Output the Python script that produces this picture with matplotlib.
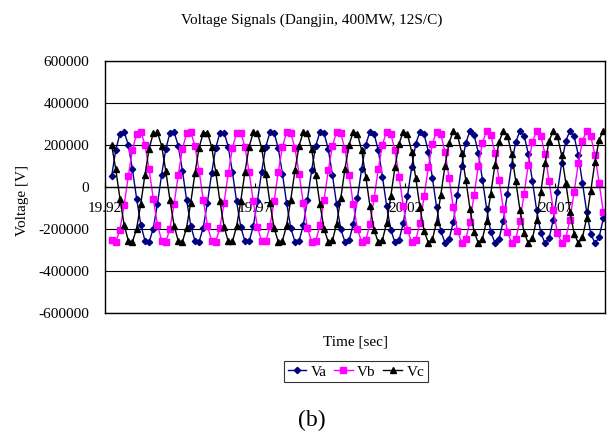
import numpy as np
import matplotlib
matplotlib.use('Agg')
import matplotlib.pyplot as plt

plt.rcParams['font.family'] = ['Liberation Serif', 'DejaVu Serif']

# ----------- datos (kV) -----------
T0 = 19.9222        # primer muestra [sec]
DT = 1.0 / 720.0    # paso de muestreo [sec]

Va = [51, 176, 254, 263, 201, 84, -55, -179, -255, -262, -198, -81,
      58, 182, 256, 261, 196, 77, -62, -184, -257, -260, -193, -74,
      65, 187, 258, 259, 191, 70, -69, -190, -259, -259, -188, -67,
      72, 192, 260, 258, 185, 63, -76, -195, -261, -256, -183, -60,
      79, 197, 262, 255, 180, 56, -83, -200, -262, -254, -177, -53,
      86, 202, 263, 253, 175, 49, -90, -204, -264, -252, -172, -45,
      93, 207, 264, 251, 169, 42, -97, -209, -265, -249, -166, -38,
      100, 211, 266, 248, 163, 35, -103, -214, -266, -247, -160, -31,
      107, 216, 266, 245, 158, 27, -110, -218, -267, -244, -155, -24,
      113, 220, 267, 242, 152, 20, -117, -222, -267, -240, -149]

Vb = [-253, -263, -203, -88, 51, 176, 254, 263, 201, 84, -55, -179,
      -255, -262, -198, -81, 58, 182, 256, 261, 196, 77, -62, -184,
      -257, -260, -193, -74, 65, 187, 258, 259, 191, 70, -69, -190,
      -259, -259, -188, -67, 72, 192, 260, 258, 185, 63, -76, -195,
      -261, -256, -183, -60, 79, 197, 262, 255, 180, 56, -83, -200,
      -262, -254, -177, -53, 86, 202, 263, 253, 175, 49, -90, -204,
      -264, -252, -172, -45, 93, 207, 264, 251, 169, 42, -97, -209,
      -265, -249, -166, -38, 100, 211, 266, 248, 163, 35, -103, -214,
      -266, -247, -160, -31, 107, 216, 266, 245, 158, 27, -110, -218,
      -267, -244, -155, -24, 113, 220, 267, 242, 152, 20, -117]

Vc = [201, 84, -55, -179, -255, -262, -198, -81, 58, 182, 256, 261,
      196, 77, -62, -184, -257, -260, -193, -74, 65, 187, 258, 259,
      191, 70, -69, -190, -259, -259, -188, -67, 72, 192, 260, 258,
      185, 63, -76, -195, -261, -256, -183, -60, 79, 197, 262, 255,
      180, 56, -83, -200, -262, -254, -177, -53, 86, 202, 263, 253,
      175, 49, -90, -204, -264, -252, -172, -45, 93, 207, 264, 251,
      169, 42, -97, -209, -265, -249, -166, -38, 100, 211, 266, 248,
      163, 35, -103, -214, -266, -247, -160, -31, 107, 216, 266, 245,
      158, 27, -110, -218, -267, -244, -155, -24, 113, 220, 267, 242,
      152, 20, -117, -222, -267, -240, -149, -17, 120, 224, 268]

x_ticks = [19.92, 19.97, 20.02, 20.07]
y_ticks = [-600000, -400000, -200000, 0, 200000, 400000, 600000]

t = T0 + DT * np.arange(len(Va))

# ----------- grafico -----------
fig = plt.figure(figsize=(6.08, 4.32), dpi=100)
ax = fig.add_axes([0.1727, 0.2755, 0.8224, 0.5833])

l1, = ax.plot(t, np.array(Va) * 1000, color='#000080', marker='D', ms=3.2, lw=1)
l2, = ax.plot(t, np.array(Vb) * 1000, color='#FF00FF', marker='s', ms=4.0, lw=1)
l3, = ax.plot(t, np.array(Vc) * 1000, color='black', marker='^', ms=4.2, lw=1)

ax.set_xlim(19.92, 19.92 + 1 / 6)
ax.set_ylim(-600000, 600000)

ax.set_yticks(y_ticks)
ax.set_yticklabels([str(v) for v in y_ticks])
ax.yaxis.grid(True, color='black', lw=0.8)
ax.axhline(-600000, color='black', lw=1, clip_on=False)
ax.tick_params(axis='y', length=0, pad=11.5, labelsize=11)

ax.set_xticks(x_ticks)
ax.set_xticklabels(['%.2f' % v for v in x_ticks])
ax.tick_params(axis='x', direction='in', length=3, pad=11, labelsize=11)

ax.spines['bottom'].set_position(('data', 0))
for s in ['left', 'right', 'top', 'bottom']:
    ax.spines[s].set_color('black')
    ax.spines[s].set_linewidth(1)

fig.text(0.513, 1 - 24.3 / 432, 'Voltage Signals (Dangjin, 400MW, 12S/C)',
         ha='center', va='baseline', fontsize=11)
fig.text(0.5855, 1 - 346 / 432, 'Time [sec]', ha='center', va='baseline', fontsize=11)
fig.text(0.0378, 0.537, 'Voltage [V]', rotation=90, ha='center', va='center', fontsize=11)
fig.text(0.513, 1 - 426 / 432, '(b)', ha='center', va='baseline', fontsize=17)

leg = fig.legend([l1, l2, l3], ['Va', 'Vb', 'Vc'], loc='center',
                 bbox_to_anchor=(356 / 608, 1 - 371.7 / 432), ncol=3,
                 fancybox=False, edgecolor='black', fontsize=11,
                 handlelength=1.2, handletextpad=0.3, columnspacing=0.5,
                 borderpad=0.25, borderaxespad=0)
leg.get_frame().set_linewidth(0.8)

fig.savefig('out.png', dpi=100)
